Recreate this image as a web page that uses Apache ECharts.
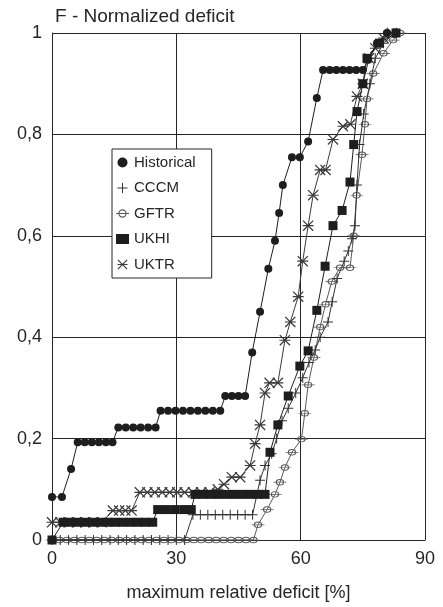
<!DOCTYPE html>
<html>
<head>
<meta charset="utf-8">
<script src="https://cdn.jsdelivr.net/npm/echarts@6/dist/echarts.min.js"></script>
<style>
  html, body { margin: 0; padding: 0; background: #fff; }
  #chart { width: 443px; height: 607px; }
</style>
</head>
<body>
<div id="chart"></div>
<script>
// Cumulative distributions of the maximum relative deficit, one [x %, normalized] list per scenario
const historical = [
  [0,0.085],[2.4,0.085],[4.6,0.14],[6.2,0.193],[7.9,0.193],[9.6,0.193],[11.3,0.193],[13,0.193],[14.6,0.193],
  [16,0.222],[17.8,0.222],[19.6,0.222],[21.4,0.222],[23.2,0.222],[25,0.222],
  [26.2,0.255],[28,0.255],[29.8,0.255],[31.6,0.255],[33.4,0.255],[35.2,0.255],[37,0.255],[38.8,0.255],[40.6,0.255],
  [41.8,0.284],[43.4,0.284],[45,0.284],[46.6,0.284],
  [48.3,0.37],[50.2,0.45],[52.2,0.535],[53.8,0.59],[54.8,0.645],[55.7,0.70],[57.9,0.755],[59.8,0.755],
  [61.8,0.786],[63.9,0.872],[65.4,0.927],[67,0.927],[68.6,0.927],[70.2,0.927],[71.8,0.927],[73.4,0.927],[75,0.927],
  [76.3,0.947],[78.4,0.98],[80.8,1],[83,1]
];
const cccm = [
  [0,0],[2,0],[4,0],[6,0],[8,0],[10,0],[12,0],[14,0],[16,0],[18,0],[20,0],[22,0],[24,0],[26,0],[28,0],[30,0],[32,0],
  [34,0.05],[35.8,0.05],[37.6,0.05],[39.4,0.05],[41.2,0.05],[43,0.05],[44.8,0.05],[46.6,0.05],[48.4,0.05],
  [50.2,0.118],[51.4,0.147],[53,0.17],[54.2,0.2],[55.5,0.235],[57,0.26],[58.8,0.29],[60.5,0.32],[62,0.35],
  [63.5,0.375],[64.7,0.4],[66.6,0.43],[67.6,0.47],[68.8,0.516],[70.5,0.55],[71.5,0.57],[72.4,0.594],[73.1,0.62],
  [73.6,0.7],[74.2,0.78],[75.2,0.84],[76.7,0.9],[78,0.95],[80,0.98],[82.5,1]
];
const gftr = [
  [0,0],[1.8,0],[3.6,0],[5.4,0],[7.2,0],[9,0],[10.8,0],[12.6,0],[14.4,0],[16.2,0],[18,0],[19.8,0],[21.6,0],[23.4,0],
  [25.2,0],[27,0],[28.8,0],[30.6,0],[32.4,0],[34.2,0],[36,0],[37.8,0],[39.6,0],[41.4,0],[43.2,0],[45,0],[46.8,0],[48.6,0],
  [49.7,0.03],[51.9,0.06],[53.8,0.09],[55,0.114],[56.2,0.143],[57.9,0.173],[60.2,0.199],[61,0.25],[61.8,0.306],
  [63.2,0.36],[64.7,0.42],[66,0.465],[67.5,0.51],[69.5,0.537],[71.9,0.537],[72.8,0.6],[73.5,0.68],[74.8,0.76],
  [75.5,0.82],[76,0.87],[77.5,0.92],[80,0.96],[82.3,0.986],[84,1]
];
const ukhi = [
  [0,0],[2.7,0.035],[4.5,0.035],[6.3,0.035],[8.1,0.035],[9.9,0.035],[11.7,0.035],[13.5,0.035],[15.3,0.035],
  [17.1,0.035],[18.9,0.035],[20.7,0.035],[22.5,0.035],[24.3,0.035],
  [25.5,0.06],[27.6,0.06],[29.7,0.06],[31.8,0.06],[33.6,0.06],
  [34.5,0.09],[36.4,0.09],[38.3,0.09],[40.2,0.09],[42.1,0.09],[44,0.09],[45.9,0.09],[47.8,0.09],[49.7,0.09],[51.4,0.09],
  [52.6,0.173],[54.5,0.227],[57,0.284],[59.8,0.343],[61.8,0.373],[63.9,0.453],[65.9,0.54],[67.8,0.62],[70,0.65],
  [71.9,0.706],[72.8,0.78],[73.6,0.845],[75,0.9],[76,0.95],[79,0.98],[83,1]
];
const uktr = [
  [0,0.035],[2,0.035],[4,0.035],[6,0.035],[8,0.035],[10,0.035],[12,0.035],
  [14.7,0.058],[16.2,0.058],[17.7,0.058],[19.2,0.058],
  [21.2,0.094],[23,0.094],[24.8,0.094],[26.6,0.094],[28.4,0.094],[30.2,0.094],[32,0.094],[34,0.094],[36,0.094],[38,0.094],
  [40,0.1],[41.5,0.11],[43.4,0.124],[45.4,0.124],[47.8,0.147],[49,0.19],[50.2,0.227],[51.4,0.29],[52.5,0.31],[54.5,0.31],
  [56.2,0.394],[57.5,0.43],[59.4,0.48],[60.5,0.55],[61.8,0.62],[63,0.68],[64.7,0.73],[66,0.73],[67.8,0.79],[70.2,0.816],
  [72,0.82],[73.6,0.875],[75,0.9],[76.5,0.95],[78,0.97],[80,0.99],[82,1]
];

const seriesNames = ['Historical', 'CCCM', 'GFTR', 'UKHI', 'UKTR'];
const xTickLabels = ['0', '30', '60', '90'];
const yTickLabels = ['0', '0,2', '0,4', '0,6', '0,8', '1'];

// Marker shapes
const PLUS = 'path://M4.5,0H5.5V4.5H10V5.5H5.5V10H4.5V5.5H0V4.5H4.5Z';
const RING_BAR = 'path://M7,0.5A4.5,4.5 0 1 1 7,9.5A4.5,4.5 0 1 1 7,0.5ZM7,1.8A3.2,3.2 0 1 0 7,8.2A3.2,3.2 0 1 0 7,1.8ZM0,4.5H14V5.5H0Z';
const STAR = 'path://M0,0.8L0.8,0L10,9.2L9.2,10ZM9.2,0L10,0.8L0.8,10L0,9.2ZM0,4.5H10V5.5H0Z';

const FONT = '"Liberation Sans", Arial, Helvetica, sans-serif';
const INK = '#262626';

function lineSeries(name, data, symbol, size, color, z) {
  return {
    name: name,
    type: 'line',
    data: data,
    symbol: symbol,
    symbolSize: size,
    symbolKeepAspect: true,
    showAllSymbol: true,
    z: z,
    lineStyle: { color: color, width: 1 },
    itemStyle: { color: color, borderWidth: 0 },
    emphasis: { disabled: true },
    animation: false
  };
}

const chart = echarts.init(document.getElementById('chart'), null, { renderer: 'canvas' });

chart.setOption({
  backgroundColor: '#fff',
  animation: false,
  title: {
    text: 'F - Normalized deficit',
    left: 50,
    top: 2,
    textStyle: { fontFamily: FONT, fontSize: 19, fontWeight: 'normal', color: INK }
  },
  grid: { left: 52, right: 18, top: 33, bottom: 66 },
  legend: {
    orient: 'vertical',
    left: 112,
    top: 149,
    itemGap: 10.5,
    itemWidth: 13,
    itemHeight: 10,
    padding: [6, 16, 6, 4],
    backgroundColor: '#fff',
    borderColor: INK,
    borderWidth: 1,
    borderRadius: 0,
    textStyle: { fontFamily: FONT, fontSize: 15, color: INK },
    data: [
      { name: seriesNames[0], icon: 'circle' },
      { name: seriesNames[1], icon: PLUS },
      { name: seriesNames[2], icon: RING_BAR },
      { name: seriesNames[3], icon: 'rect' },
      { name: seriesNames[4], icon: STAR }
    ]
  },
  xAxis: {
    type: 'value',
    min: 0,
    max: 90,
    interval: 30,
    name: 'maximum relative deficit [%]',
    nameLocation: 'middle',
    nameGap: 44,
    nameTextStyle: { fontFamily: FONT, fontSize: 18, color: INK },
    axisLine: { show: true, lineStyle: { color: INK, width: 1 } },
    axisTick: { show: false },
    axisLabel: {
      margin: 10,
      fontFamily: FONT,
      fontSize: 18,
      color: INK,
      formatter: (v) => xTickLabels[Math.round(v / 30)]
    },
    splitLine: { show: true, lineStyle: { color: INK, width: 1 } }
  },
  yAxis: {
    type: 'value',
    min: 0,
    max: 1,
    interval: 0.2,
    axisLine: { show: true, lineStyle: { color: INK, width: 1 } },
    axisTick: { show: false },
    axisLabel: {
      margin: 10,
      fontFamily: FONT,
      fontSize: 18,
      color: INK,
      formatter: (v) => yTickLabels[Math.round(v / 0.2)]
    },
    splitLine: { show: true, lineStyle: { color: INK, width: 1 } }
  },
  series: [
    lineSeries(seriesNames[2], gftr, RING_BAR, [13, 10], '#5a5a5a', 2),
    lineSeries(seriesNames[1], cccm, PLUS, 10, '#333', 3),
    lineSeries(seriesNames[4], uktr, STAR, 11, '#3a3a3a', 4),
    lineSeries(seriesNames[3], ukhi, 'rect', 9, '#1e1e1e', 5),
    lineSeries(seriesNames[0], historical, 'circle', 8, '#1e1e1e', 6)
  ]
});
</script>
</body>
</html>
